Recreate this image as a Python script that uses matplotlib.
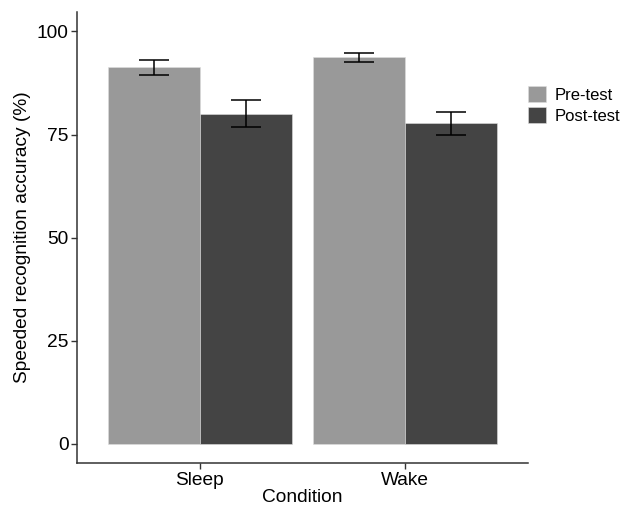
import matplotlib
matplotlib.use("Agg")
import matplotlib.pyplot as plt
import numpy as np

plt.rcParams['font.family'] = ['Liberation Sans', 'DejaVu Sans']

conditions = ["Sleep", "Wake"]
series = ["Pre-test", "Post-test"]
means = {"Pre-test": [91.4, 93.7], "Post-test": [80.1, 77.7]}
err_low = {"Pre-test": [89.5, 92.5], "Post-test": [76.9, 74.9]}
err_high = {"Pre-test": [93.2, 94.9], "Post-test": [83.4, 80.5]}
colors = {"Pre-test": "#999999", "Post-test": "#444444"}
yticks = [0, 25, 50, 75, 100]

fig = plt.figure(figsize=(6.3, 5.08), dpi=100)
ax = fig.add_axes([77/630, 1-463.3/508, (527.7-77)/630, (463.3-11.7)/508])

x = np.arange(1, len(conditions) + 1)
w = 0.45
for i, s in enumerate(series):
    xs = x + (i - 0.5) * w
    m = np.array(means[s])
    lo = m - np.array(err_low[s])
    hi = np.array(err_high[s]) - m
    ax.bar(xs, m, width=w, color=colors[s], label=s, edgecolor='#dddddd', linewidth=0.4)
    ax.errorbar(xs, m, yerr=[lo, hi], fmt='none', ecolor='black', elinewidth=1.1,
                capsize=10.8, capthick=1.1)

ax.set_xlim(0.4, 2.6)
ax.set_ylim(-4.7, 104.8)
ax.set_xticks(x)
ax.set_xticklabels(conditions)
ax.set_yticks(yticks)
ax.tick_params(axis='both', labelsize=13.8, colors='#333333', labelcolor='black',
               length=4, width=1, pad=2)
for sp in ['top', 'right']:
    ax.spines[sp].set_visible(False)
for sp in ['left', 'bottom']:
    ax.spines[sp].set_color('#333333')
    ax.spines[sp].set_linewidth(1.1)
ax.set_xlabel("Condition", fontsize=13.8, labelpad=0.5)
ax.set_ylabel("Speeded recognition accuracy (%)", fontsize=13.8, labelpad=4)

leg = ax.legend(loc='upper left', bbox_to_anchor=(1.0, 0.835), frameon=False,
                fontsize=12, handlelength=1.08, handleheight=1.08,
                labelspacing=0.25, handletextpad=0.55, borderaxespad=0, borderpad=0)

fig.savefig("out.png", dpi=100)
